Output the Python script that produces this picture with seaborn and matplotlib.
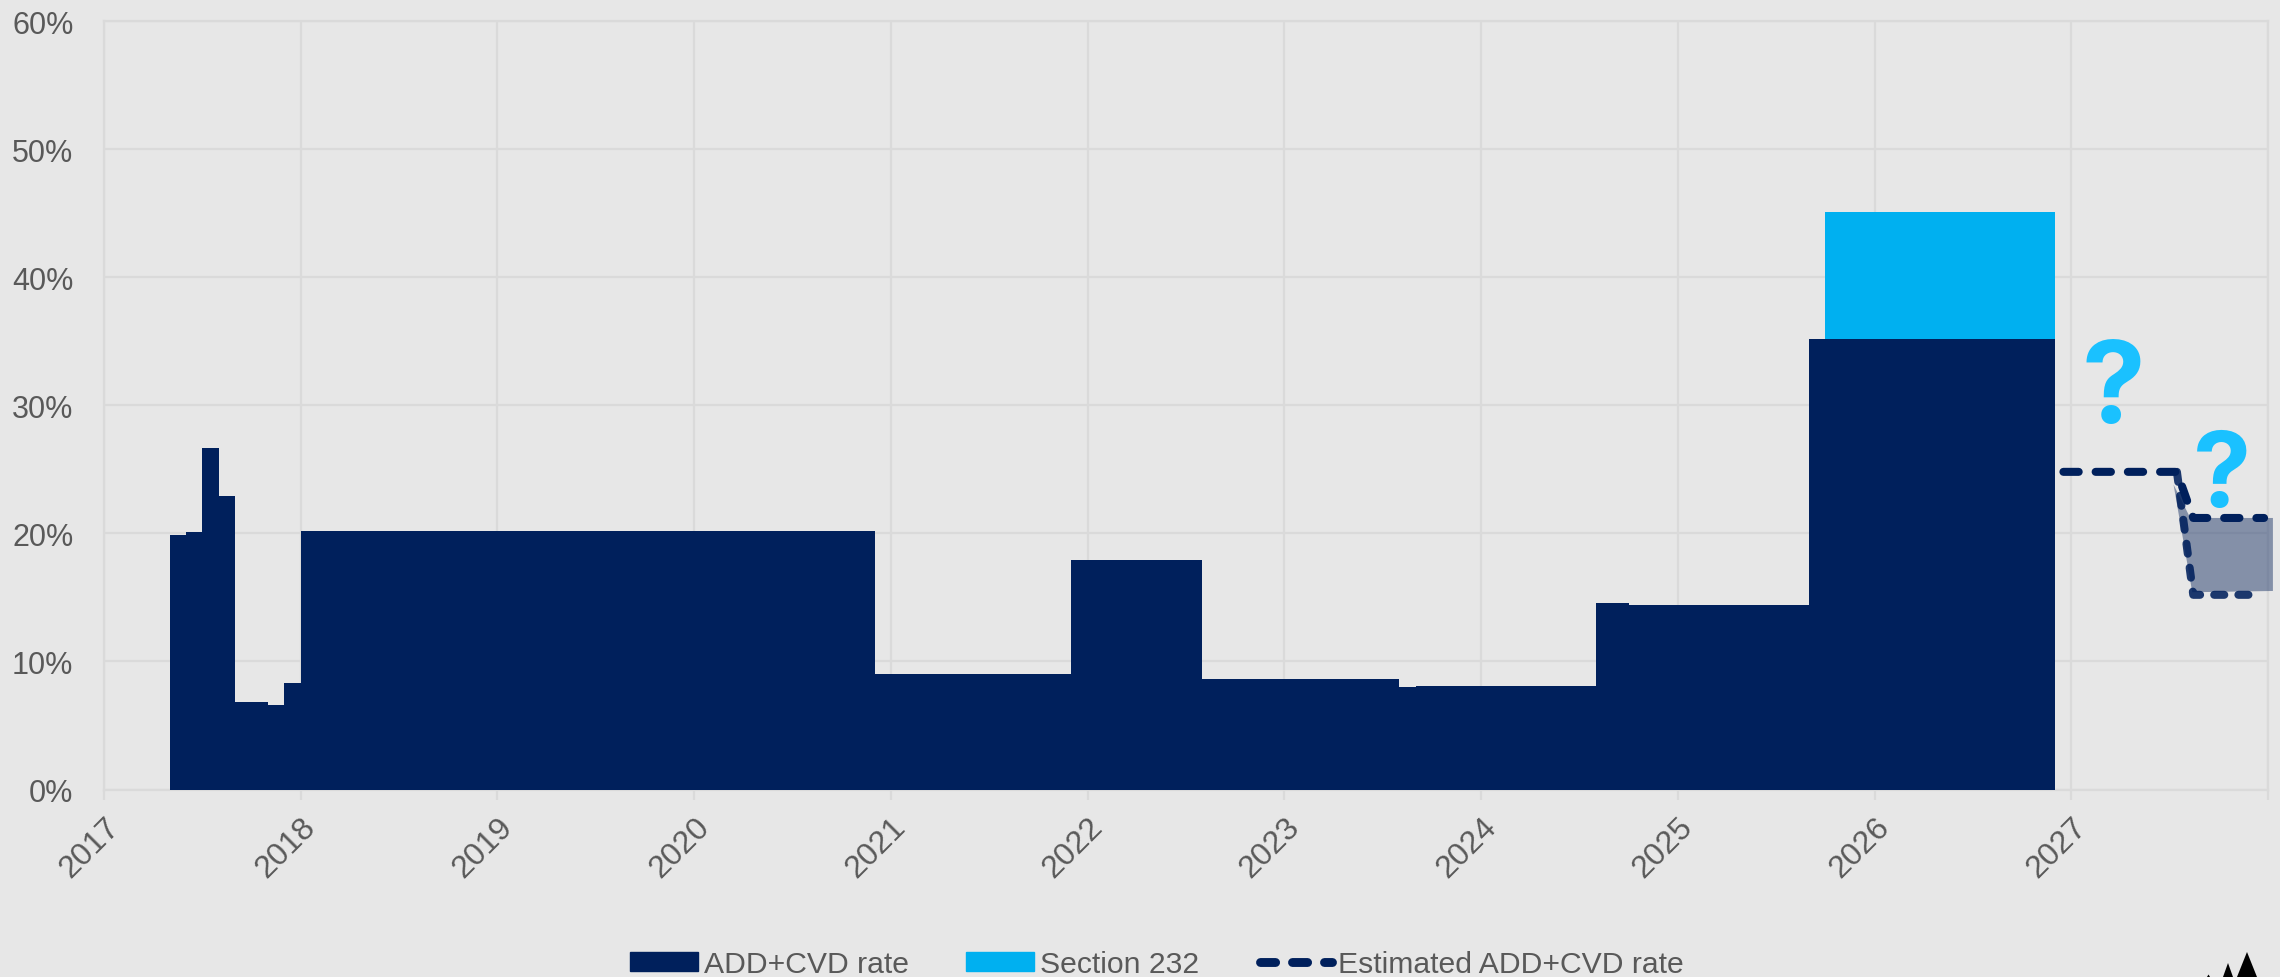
import matplotlib
matplotlib.use("Agg")
import matplotlib.pyplot as plt
import seaborn as sns
from matplotlib.lines import Line2D
from matplotlib.patches import Patch, Polygon

BG = "#E7E7E7"
GRID = "#DADADA"
NAVY = "#00205C"
SKY = "#00B0F0"
TEXT = "#595959"

# period start (decimal year) for each ADD+CVD rate step, plus final end
add_cvd_edges = [2017.333, 2017.417, 2017.5, 2017.583, 2017.667, 2017.833, 2017.917,
                 2018.0, 2020.917, 2021.917, 2022.583, 2023.583, 2023.667, 2024.583,
                 2024.75, 2025.667, 2026.917]
add_cvd_rate = [19.85, 20.1, 26.7, 22.9, 6.85, 6.6, 8.35,
                20.2, 9.0, 17.9, 8.6, 8.0, 8.1, 14.55,
                14.4, 35.15]
section232_edges = [2025.75, 2026.917]
section232_rate = [9.95]
# base under the Section 232 block is the ADD+CVD rate in that period
section232_base = 35.15

est_x = [2026.96, 2027.537, 2027.62, 2027.98]
est_y = [24.8, 24.8, 21.2, 21.2]
est_low_x = [2027.537, 2027.62, 2027.92]
est_low_y = [24.8, 15.2, 15.2]
band_x = [2027.52, 2027.605, 2028.025, 2028.025, 2027.615]
band_y = [23.8, 21.2, 21.2, 15.5, 15.4]

years = list(range(2017, 2029))
year_labels = [str(y) for y in range(2017, 2028)] + [""]
pct_ticks = [0, 10, 20, 30, 40, 50, 60]

sns.set_theme(style="white")
plt.rcParams["font.family"] = ["Liberation Sans", "DejaVu Sans"]

W, H = 2280, 978
fig = plt.figure(figsize=(22.8, 9.78), dpi=100, facecolor=BG)
ax = fig.add_axes([104 / W, 1 - 790.5 / H, (2268 - 104) / W, (790.5 - 22) / H], facecolor=BG)

# Section 232 stacked block: drawn as a total behind the ADD+CVD steps
sns.histplot(x=section232_edges[:-1], weights=[section232_base + section232_rate[0]],
             bins=section232_edges, color=SKY, alpha=1, edgecolor="none", linewidth=0, ax=ax, zorder=3)
sns.histplot(x=add_cvd_edges[:-1], weights=add_cvd_rate, bins=add_cvd_edges,
             color=NAVY, alpha=1, edgecolor="none", linewidth=0, ax=ax, zorder=4)

ax.fill(band_x, band_y, color="#223A6B", alpha=0.5, lw=0, zorder=4, clip_on=False)
sns.lineplot(x=est_x, y=est_y, ax=ax, sort=False, errorbar=None, color=NAVY, lw=5.8,
             ls=(0, (1.9, 2.1)), dash_capstyle="round", zorder=5)
sns.lineplot(x=est_low_x, y=est_low_y, ax=ax, sort=False, errorbar=None, color=NAVY, lw=5.8, alpha=0.88,
             ls=(0, (1.25, 1.75)), dash_capstyle="round", zorder=5)

for qx, qy, qs in [(2027.215, 31.9, 82), (2027.765, 25.1, 75)]:
    ax.text(qx, qy, "?", color="#1AC1FF", fontsize=qs, fontweight="bold", family="Inter",
            ha="center", va="center_baseline", zorder=6)

ax.set_xlim(2017, 2028)
ax.set_ylim(0, 60)
ax.set_xticks(years)
ax.set_xticklabels(year_labels, rotation=45, ha="right", rotation_mode="anchor", fontsize=23, color=TEXT)
ax.set_yticks(pct_ticks)
ax.set_yticklabels([f"{p}%" for p in pct_ticks], fontsize=22, color=TEXT)
ax.set_xlabel("")
ax.set_ylabel("")
ax.grid(True, color=GRID, lw=1.6, zorder=0)
ax.set_axisbelow(True)
ax.tick_params(axis="x", length=7, width=1.6, color=GRID, pad=9, bottom=True)
ax.tick_params(axis="y", length=0, pad=22)
for spine in ax.spines.values():
    spine.set_visible(True)
    spine.set_color(GRID)
    spine.set_linewidth(1.6)

legend_items = [
    (630, 2.27, Patch(color=NAVY, label="ADD+CVD rate")),
    (966, 2.27, Patch(color=SKY, label="Section 232")),
    (1260, 2.4, Line2D([0], [0], color=NAVY, lw=6.4, ls=(0, (1.7, 1.9)), dash_capstyle="round",
                       label="Estimated ADD+CVD rate")),
]
for left, hlen, handle in legend_items:
    fig.legend(handles=[handle], loc="center left", bbox_to_anchor=(left / W, 1 - 965.5 / H), frameon=False,
               fontsize=21.7, labelcolor=TEXT, handlelength=hlen, handleheight=0.6, handletextpad=0.2,
               borderpad=0, borderaxespad=0)

# publisher logo peaks, cut off by the bottom edge
for peak_x, peak_y, half in [(2247, 953, 10), (2228, 964, 5), (2208.5, 975.5, 1.5)]:
    fig.add_artist(Polygon([[(peak_x - half) / W, 0], [peak_x / W, 1 - peak_y / H], [(peak_x + half) / W, 0]],
                           closed=True, transform=fig.transFigure, color="black", lw=0))

fig.savefig("out.png", dpi=100, facecolor=BG)
